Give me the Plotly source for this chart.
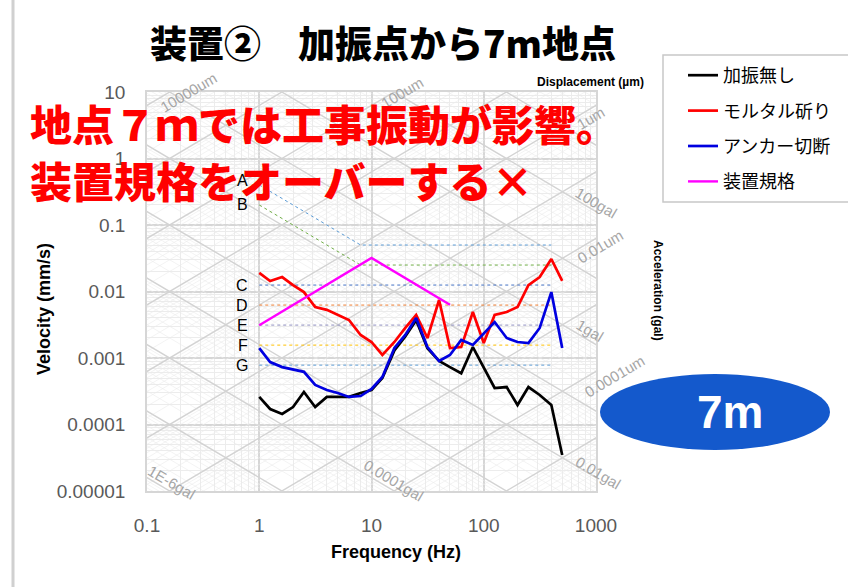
import numpy as np
import plotly.graph_objects as go

# 1/3-octave band centre frequencies (Hz)
freq = [1, 1.25, 1.6, 2, 2.5, 3.15, 4, 5, 6.3, 8, 10, 12.5, 16, 20, 25, 31.5,
        40, 50, 63, 80, 100, 125, 160, 200, 250, 315, 400, 500]

# Velocity spectra (mm/s)
no_excitation = [0.00026, 0.000171, 0.000144, 0.000183, 0.000308, 0.000183, 0.00026,
                 0.00026, 0.00026, 0.000298, 0.00033, 0.0005, 0.0013, 0.0021, 0.0037,
                 0.0014, 0.0009, 0.00073, 0.00059, 0.00146, 0.00073, 0.000354,
                 0.000366, 0.000196, 0.000366, 0.000278, 0.000196, 0.0000348]
mortar_chipping = [0.019, 0.0144, 0.0165, 0.0125, 0.0098, 0.00585, 0.0053, 0.00443,
                   0.00373, 0.00222, 0.00174, 0.00111, 0.00174, 0.00283, 0.00443,
                   0.0020, 0.00745, 0.00141, 0.00146, 0.00492, 0.00168, 0.00443,
                   0.00492, 0.00585, 0.0125, 0.0165, 0.0308, 0.0144]
anchor_cutting = [0.00141, 0.00087, 0.00073, 0.00068, 0.00062, 0.000393, 0.00033,
                  0.000298, 0.00026, 0.000268, 0.000342, 0.000518, 0.00141, 0.00222,
                  0.0040, 0.00146, 0.0009, 0.00111, 0.00187, 0.00157, 0.00238, 0.00348,
                  0.0020, 0.00174, 0.00168, 0.00283, 0.0098, 0.00141]

# Equipment specification
spec_freq = [1, 10, 50]
spec_vel = [0.0031, 0.032, 0.0063]

# Vibration criteria curves A-G
vc_freq = [1, 8, 400]
vc_curves = {
    "A": [0.4, 0.05, 0.05],
    "B": [0.2, 0.025, 0.025],
    "C": [0.0125, 0.0125, 0.0125],
    "D": [0.00625, 0.00625, 0.00625],
    "E": [0.003125, 0.003125, 0.003125],
    "F": [0.0015625, 0.0015625, 0.0015625],
    "G": [0.00078125, 0.00078125, 0.00078125],
}
vc_colors = {"A": "#5b9bd5", "B": "#70ad47", "C": "#4472c4", "D": "#ed7d31",
             "E": "#8f8fc0", "F": "#ffc000", "G": "#5b9bd5"}

x_ticks = [0.1, 1, 10, 100, 1000]
x_tick_text = ["0.1", "1", "10", "100", "1000"]
y_ticks = [1e-5, 1e-4, 1e-3, 1e-2, 1e-1, 1, 10]
y_tick_text = ["0.00001", "0.0001", "0.001", "0.01", "0.1", "1", "10"]

# figure / plot-area geometry in pixels
W, H = 848, 587
L, R, T, B = 147, 596, 92, 491


def xp(px):
    return (px - L) / (R - L)


def yp(py):
    return (B - py) / (B - T)


fig = go.Figure()

# tripartite grid: constant displacement (rising) and constant acceleration (falling)
f_end = np.array([0.05, 2000.0])


def diag_trace(kind, major):
    xs, ys = [], []
    for e in range(-9, 7):
        mults = [1] if major else range(2, 10)
        for m in mults:
            val = m * 10.0 ** e
            if kind == "disp":   # val in um
                v = 2 * np.pi * f_end * val * 1e-3
            else:                # val in gal
                v = val * 10.0 / (2 * np.pi * f_end)
            xs += list(f_end) + [None]
            ys += list(v) + [None]
    return go.Scatter(x=xs, y=ys, mode="lines", hoverinfo="skip", showlegend=False,
                      line=dict(color="#d3d3d3" if major else "#ebebeb",
                                width=1.4 if major else 0.6))


for major in (False, True):
    fig.add_trace(diag_trace("disp", major))
    fig.add_trace(diag_trace("acc", major))

# vibration criteria curves
for name, vals in vc_curves.items():
    fig.add_trace(go.Scatter(x=vc_freq, y=vals, mode="lines", hoverinfo="skip",
                             showlegend=False,
                             line=dict(color=vc_colors[name], width=1, dash="dot")))

# measured spectra
fig.add_trace(go.Scatter(x=freq, y=no_excitation, mode="lines", name="加振無し",
                         legendgroup="g1", line=dict(color="#000000", width=2.7)))
fig.add_trace(go.Scatter(x=freq, y=mortar_chipping, mode="lines", name="モルタル斫り",
                         legendgroup="g2", line=dict(color="#ff0000", width=2.7)))
fig.add_trace(go.Scatter(x=freq, y=anchor_cutting, mode="lines", name="アンカー切断",
                         legendgroup="g3", line=dict(color="#0000e0", width=2.7)))
fig.add_trace(go.Scatter(x=spec_freq, y=spec_vel, mode="lines", name="装置規格",
                         legendgroup="g4", line=dict(color="#ff00ff", width=2.4)))

tick_font = dict(family="Liberation Sans, Arial", size=19, color="#595959")
fig.update_xaxes(type="log", range=[-1, 3], tickmode="array", tickvals=x_ticks,
                 ticktext=x_tick_text, tickfont=tick_font, ticks="", ticklabelstandoff=16,
                 showgrid=True, gridcolor="#d6d6d6", gridwidth=1.6,
                 minor=dict(dtick="D1", showgrid=True, gridcolor="#ececec", gridwidth=0.6),
                 showline=True, linecolor="#d6d6d6", linewidth=1.6, mirror=True,
                 zeroline=False)
fig.update_yaxes(type="log", range=[-5, 1], tickmode="array", tickvals=y_ticks,
                 ticktext=y_tick_text, tickfont=tick_font, ticks="", ticklabelstandoff=16,
                 showgrid=True, gridcolor="#d6d6d6", gridwidth=1.6,
                 minor=dict(dtick="D1", showgrid=True, gridcolor="#ececec", gridwidth=0.6),
                 showline=True, linecolor="#d6d6d6", linewidth=1.6, mirror=True,
                 zeroline=False)

ann = []
jp = "Noto Sans CJK JP"
lab = "Liberation Sans, Arial"


def text_at(text, cx, cy, size, color="#000000", family=lab, angle=0,
            xanchor="center", weight="normal"):
    return dict(text=text, x=xp(cx), y=yp(cy), xref="paper", yref="paper",
                xanchor=xanchor, yanchor="middle", showarrow=False, textangle=angle,
                font=dict(family=family, size=size, color=color, weight=weight))


# chart title
ann.append(text_at("装置②　加振点から7m地点", 383, 42, 37, family=jp, weight=900))

# axis titles
ann.append(text_at("<b>Frequency (Hz)</b>", 396, 552, 18))
ann.append(text_at("<b>Velocity (mm/s)</b>", 44, 309, 18, angle=-90))
ann.append(text_at("<b>Displacement (µm)</b>", 590, 82, 12))
ann.append(text_at("<b>Acceleration (gal)</b>", 658, 290, 12, angle=90))

# grid family labels
slope_deg = float(np.degrees(np.arctan((B - T) / 6.0 / ((R - L) / 4.0))))
grid_labels = [
    ("10000um", 188, 92, -slope_deg), ("100um", 402, 92, -slope_deg),
    ("1um", 590, 118, -slope_deg), ("0.01um", 600, 246, -slope_deg),
    ("0.0001um", 614, 376, -slope_deg),
    ("100gal", 596, 202, slope_deg), ("1gal", 590, 330, slope_deg),
    ("0.01gal", 598, 472, slope_deg), ("0.0001gal", 394, 480, slope_deg),
    ("1E-6gal", 172, 482, slope_deg),
]
for txt, cx, cy, ang in grid_labels:
    ann.append(text_at(txt, cx, cy, 15, color="#a6a6a6", angle=ang))

# criteria letters
for name, vals in vc_curves.items():
    ann.append(dict(text=name, x=0, y=float(np.log10(vals[0])), xref="x", yref="y",
                    xanchor="right", yanchor="middle", xshift=-9,
                    yshift=4 if name == "A" else 0,
                    showarrow=False, font=dict(family=lab, size=16, color="#000")))

# comment text in red
ann.append(text_at("地点７ｍでは工事振動が影響。", 28, 122, 42, color="#ff0000",
                   family=jp, xanchor="left", weight=900))
ann.append(text_at("装置規格をオーバーする×", 28, 179, 42, color="#ff0000",
                   family=jp, xanchor="left", weight=900))

# distance badge
ann.append(text_at("<b>7m</b>", 730, 412, 46, color="#ffffff"))

shapes = [
    dict(type="circle", xref="paper", yref="paper", x0=xp(600), x1=xp(830),
         y0=yp(450), y1=yp(374), fillcolor="#1459cc", line=dict(width=0), layer="above"),
    dict(type="rect", xref="paper", yref="paper", x0=xp(663), x1=xp(870),
         y0=yp(202), y1=yp(55), line=dict(color="#c8c8c8", width=1.5),
         fillcolor="rgba(0,0,0,0)", layer="above"),
    dict(type="line", xref="paper", yref="paper", x0=xp(13), x1=xp(13),
         y0=yp(-5), y1=yp(600), line=dict(color="#d0d0d0", width=3)),
]

fig.update_layout(
    width=W, height=H,
    margin=dict(l=L, r=W - R, t=T, b=H - B),
    paper_bgcolor="#ffffff", plot_bgcolor="#ffffff",
    annotations=ann, shapes=shapes,
    showlegend=True,
    legend=dict(x=xp(683), y=yp(57), xanchor="left", yanchor="top",
                font=dict(family=jp, size=18, color="#000"),
                tracegroupgap=9, itemwidth=30, bgcolor="rgba(0,0,0,0)",
                traceorder="grouped"),
)

fig.write_html("out.html")
